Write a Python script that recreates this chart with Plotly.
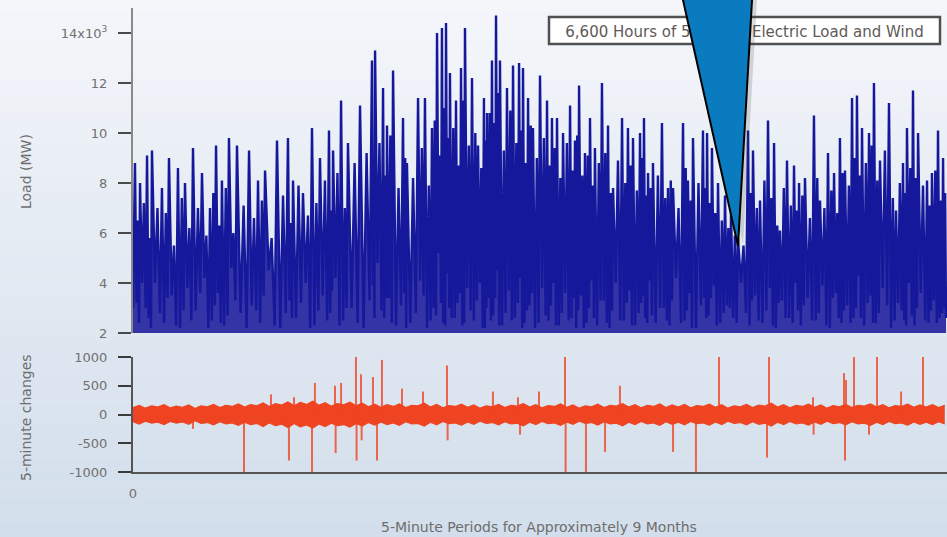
import plotly.graph_objects as go

# ---- Load series (thousand MW): daily peaks, and between two peaks a low,
# a secondary shoulder and a second low
peak_hour = [16, 57, 114, 154, 235, 292, 365, 422, 487, 560,
             625, 674, 722, 779, 844, 942, 1015, 1072, 1169, 1258,
             1299, 1380, 1453, 1518, 1591, 1624, 1689, 1745, 1843, 1940,
             1965, 2030, 2062, 2111, 2192, 2224, 2314, 2370, 2427, 2468,
             2508, 2541, 2573, 2622, 2663, 2695, 2752, 2801, 2849, 2874,
             2914, 2947, 2979, 3036, 3085, 3134, 3166, 3207, 3247, 3304,
             3361, 3401, 3442, 3491, 3548, 3588, 3621, 3669, 3710, 3750,
             3807, 3856, 3897, 3970, 4018, 4059, 4116, 4148, 4181, 4221,
             4294, 4343, 4384, 4465, 4505, 4546, 4627, 4660, 4700, 4749,
             4806, 4855, 4911, 4993, 5033, 5090, 5155, 5204, 5252, 5309,
             5366, 5407, 5455, 5528, 5577, 5642, 5691, 5739, 5780, 5837,
             5877, 5918, 5975, 6015, 6064, 6137, 6194, 6251, 6283, 6332,
             6373, 6446, 6486, 6535, 6576]
peak_load = [8.8, 8.0, 9.1, 9.3, 7.8, 9.0, 8.6, 8.0, 9.4, 8.4,
             7.0, 9.5, 8.1, 9.8, 9.5, 9.3, 8.1, 8.5, 9.7, 9.8,
             8.1, 7.6, 10.2, 9.0, 10.1, 9.3, 11.3, 9.6, 11.1, 12.9,
             13.3, 11.8, 10.3, 12.5, 10.6, 8.8, 11.4, 11.4, 10.2, 14.0,
             14.2, 14.4, 12.4, 11.3, 12.6, 14.2, 12.2, 9.5, 11.4, 10.8,
             12.9, 14.7, 12.9, 11.8, 12.7, 12.8, 12.6, 11.4, 10.2, 12.3,
             11.3, 10.6, 10.6, 10.0, 11.1, 9.7, 11.9, 9.2, 10.6, 9.4,
             12.0, 10.3, 7.8, 10.6, 10.2, 9.8, 10.0, 10.6, 8.4, 8.8,
             10.4, 7.8, 7.8, 10.4, 8.1, 9.8, 10.1, 10.0, 9.4, 8.0,
             7.5, 6.8, 5.8, 10.1, 9.3, 7.3, 10.5, 9.6, 6.1, 8.9,
             8.7, 8.0, 8.2, 10.7, 7.3, 9.2, 8.4, 9.8, 8.5, 11.4,
             11.5, 10.2, 10.0, 12.0, 8.9, 11.2, 6.9, 8.8, 10.2, 11.7,
             10.0, 8.1, 8.4, 10.1, 9.0]
low_load = [3.2, 4.0, 2.6, 4.0, 2.4, 3.5, 2.2, 3.8, 2.9, 4.2,
            2.5, 3.6, 2.3, 4.6, 2.8, 3.1, 2.4, 4.5, 2.2, 3.3,
            2.6, 4.0, 2.3, 3.5, 2.8, 4.2, 2.5, 3.0, 2.2, 3.9,
            4.8, 2.6, 3.4, 2.3, 3.6, 2.4, 4.1, 2.2, 3.0, 5.2,
            2.4, 4.4, 2.6, 3.2, 2.3, 3.8, 2.5, 4.0, 2.2, 3.4,
            2.7, 4.5, 2.3, 3.7, 2.6, 4.2, 2.4, 3.1, 2.2, 3.8,
            2.5, 4.0, 2.3, 3.6, 2.6, 2.2, 3.5, 2.4, 4.1, 2.3,
            3.3, 2.2, 4.0, 2.5, 3.7, 2.3, 3.2, 2.6, 4.1, 2.4,
            3.0, 2.3, 4.2, 2.5, 3.6, 2.2, 3.4, 2.7, 3.9, 2.4,
            3.1, 2.6, 4.0, 2.3, 3.5, 2.4, 3.8, 2.2, 3.3, 2.6,
            4.0, 2.3, 3.4, 2.5, 3.9, 2.2, 3.6, 2.4, 3.1, 2.6,
            4.3, 2.3, 3.5, 2.4, 3.8, 2.2, 3.2, 2.5, 4.0, 2.3,
            3.6, 2.4, 3.3, 2.6, 3.0]
mid_load = [6.5, 7.2, 5.8, 7.0, 6.8, 5.5, 7.4, 6.2, 7.0, 5.9,
            7.6, 6.3, 7.8, 6.0, 7.1, 6.6, 7.3, 5.8, 7.5, 6.4,
            7.9, 6.7, 7.2, 8.1, 6.9, 8.4, 7.0, 8.8, 9.2, 7.5,
            9.6, 8.3, 9.9, 7.8, 9.0, 8.2, 9.4, 7.9, 10.5, 9.1,
            11.0, 9.8, 10.2, 8.7, 11.3, 9.5, 10.0, 8.6, 9.7, 10.8,
            10.4, 11.6, 9.3, 10.9, 9.6, 10.1, 8.8, 10.3, 9.0, 9.8,
            8.7, 9.4, 8.2, 9.6, 8.5, 9.9, 8.3, 9.1, 7.9, 8.8,
            9.2, 7.6, 8.9, 8.0, 8.7, 7.7, 9.0, 7.5, 7.8, 8.3,
            7.4, 8.1, 7.0, 8.6, 7.3, 8.0, 7.8, 7.2, 6.8, 6.5,
            6.2, 5.9, 5.5, 7.6, 7.0, 8.1, 7.4, 6.3, 7.8, 7.1,
            6.9, 7.5, 6.6, 8.2, 7.0, 7.7, 6.8, 8.4, 7.9, 9.0,
            8.3, 8.8, 9.5, 8.1, 9.3, 7.4, 8.0, 7.6, 8.6, 8.2,
            7.9, 7.1, 8.5, 7.3, 7.6]
low2_load = [2.4, 3.0, 2.2, 2.8, 3.4, 2.3, 2.9, 2.5, 3.6, 2.2,
             3.1, 2.4, 2.7, 3.3, 2.2, 2.9, 3.5, 2.3, 2.8, 2.6,
             3.2, 2.2, 2.9, 2.5, 3.7, 2.3, 3.0, 2.4, 3.3, 2.6,
             2.9, 3.4, 2.4, 3.1, 2.2, 2.8, 3.5, 2.5, 2.7, 3.2,
             2.3, 3.0, 2.6, 3.6, 2.4, 2.9, 3.3, 2.2, 3.0, 2.5,
             3.4, 2.3, 2.8, 2.5, 3.2, 2.2, 2.9, 3.6, 2.4, 2.7,
             3.1, 2.3, 2.8, 2.5, 3.4, 2.9, 2.2, 3.0, 2.6, 3.3,
             2.4, 2.9, 2.5, 3.2, 2.3, 2.8, 3.5, 2.4, 2.7, 3.0,
             2.5, 3.3, 2.4, 2.9, 2.2, 3.1, 2.6, 3.4, 2.3, 2.8,
             3.0, 2.4, 2.8, 3.3, 2.5, 2.9, 2.3, 3.2, 2.6, 2.4,
             2.9, 3.1, 2.5, 2.8, 2.3, 3.4, 2.6, 2.9, 2.4, 3.0,
             2.6, 3.2, 2.4, 2.8, 3.1, 2.5, 2.9, 2.3, 2.7, 3.0,
             2.5, 2.9, 2.4, 2.8, 2.6]
start_load = 3.0

# ---- 5-minute changes (MW): envelope of the everyday band, plus isolated ramps
band_hi = [120, 160, 110, 150, 130, 170, 115, 145, 125, 165,
           105, 150, 135, 175, 120, 160, 140, 185, 130, 170,
           150, 200, 140, 190, 165, 220, 150, 210, 175, 230,
           160, 205, 145, 190, 170, 215, 150, 195, 135, 180,
           125, 170, 140, 185, 120, 160, 150, 195, 130, 175,
           115, 155, 140, 180, 125, 165, 110, 150, 135, 175,
           120, 160, 145, 190, 130, 170, 115, 155, 140, 185,
           125, 165, 110, 150, 135, 180, 120, 160, 145, 190,
           130, 170, 115, 160, 140, 185, 120, 165, 130, 175,
           115, 155, 140, 180, 125, 170, 110, 150, 135, 175,
           120, 165, 145, 195, 130, 170, 115, 160, 140, 180,
           125, 165, 110, 155, 135, 175, 120, 160, 145, 185,
           130, 170, 115, 155, 140, 180, 125, 165, 130, 170,
           120, 160]
band_lo = [-125, -165, -115, -150, -135, -175, -120, -150, -130, -170,
           -110, -155, -140, -180, -125, -165, -145, -190, -135, -175,
           -155, -210, -145, -195, -170, -225, -155, -215, -180, -235,
           -165, -210, -150, -195, -175, -220, -155, -200, -140, -185,
           -130, -175, -145, -190, -125, -165, -155, -200, -135, -180,
           -120, -160, -145, -185, -130, -170, -115, -155, -140, -180,
           -125, -165, -150, -195, -135, -175, -120, -160, -145, -190,
           -130, -170, -115, -155, -140, -185, -125, -165, -150, -195,
           -135, -175, -120, -165, -145, -190, -125, -170, -135, -180,
           -120, -160, -145, -185, -130, -175, -115, -155, -140, -180,
           -125, -170, -150, -200, -135, -175, -120, -165, -145, -185,
           -130, -170, -115, -160, -140, -180, -125, -165, -150, -190,
           -135, -175, -120, -160, -145, -185, -130, -170, -135, -175,
           -125, -165]
band_last_hour = 6590

ramp_hour = [1810, 1851, 2021, 2549, 3507, 4757, 5163, 5853, 6040, 6413,
             1477, 1640, 1689, 1948, 2184, 2354, 2922, 3125, 3296, 3953,
             5772, 5788, 6235, 5520, 1120, 1307,
             901, 1266, 1453, 1645, 1815, 1856, 1981, 2554, 3512, 3677,
             3832, 4384, 4570, 5147, 5780, 5975, 5525, 487, 3142]
ramp_mw = [1000, 700, 950, 850, 1000, 1000, 1000, 1000, 1000, 1000,
           550, 500, 550, 650, 450, 400, 400, 300, 400, 500,
           720, 600, 400, 300, 350, 300,
           -1000, -800, -1000, -670, -800, -450, -800, -450, -1000, -1000,
           -650, -650, -1000, -750, -800, -350, -350, -250, -350]

PER_HOUR = 12  # 5-minute periods per hour
W, H = 947, 537

# load path: peak -> low -> shoulder -> low -> next peak
lx, ly = [0], [start_load]
for i, (h, p) in enumerate(zip(peak_hour, peak_load)):
    nxt = peak_hour[i + 1] if i + 1 < len(peak_hour) else h + 30
    gap = nxt - h
    lx += [h * PER_HOUR, (h + 0.3 * gap) * PER_HOUR,
           (h + 0.55 * gap) * PER_HOUR, (h + 0.8 * gap) * PER_HOUR]
    ly += [p, low_load[i], mid_load[i], low2_load[i]]

n_band = len(band_hi)
band_x = [band_last_hour * PER_HOUR * i / (n_band - 1) for i in range(n_band)]

rx, ry = [], []
for h, v in zip(ramp_hour, ramp_mw):
    rx += [h * PER_HOUR, h * PER_HOUR, None]
    ry += [0, v, None]

fig = go.Figure()
fig.add_trace(go.Scatter(x=lx, y=ly, mode="lines", fill="tozeroy",
                         fillcolor="rgb(52,52,166)",
                         line=dict(color="#15189b", width=2.4),
                         xaxis="x", yaxis="y", hoverinfo="skip"))
fig.add_trace(go.Scatter(x=band_x, y=band_hi, mode="lines",
                         line=dict(color="#ef4422", width=1.2),
                         xaxis="x2", yaxis="y2", hoverinfo="skip"))
fig.add_trace(go.Scatter(x=band_x, y=band_lo, mode="lines", fill="tonexty",
                         fillcolor="#ef4422",
                         line=dict(color="#ef4422", width=1.2),
                         xaxis="x2", yaxis="y2", hoverinfo="skip"))
fig.add_trace(go.Scatter(x=rx, y=ry, mode="lines",
                         line=dict(color="rgba(239,68,34,0.8)", width=2),
                         xaxis="x2", yaxis="y2", hoverinfo="skip"))

def px(x):
    return x / W

def py(y):
    return 1 - y / H

shapes = []
# soft vertical background gradient
top_c, bot_c = (244, 246, 250), (210, 222, 235)
steps = 40
for i in range(steps):
    t = i / (steps - 1)
    c = tuple(round(a + (b - a) * t) for a, b in zip(top_c, bot_c))
    shapes.append(dict(type="rect", xref="paper", yref="paper", layer="below",
                       x0=0, x1=1, y0=1 - (i + 1) / steps, y1=1 - i / steps,
                       line=dict(width=0), fillcolor="rgb(%d,%d,%d)" % c))

# chart title box
shapes.append(dict(type="rect", xref="paper", yref="paper", layer="above",
                   x0=px(549), x1=px(940), y0=py(44), y1=py(17),
                   fillcolor="white", line=dict(color="#505050", width=2.5),
                   label=dict(text="6,600 Hours of 5-Minute Electric Load and Wind",
                              textposition="middle center",
                              font=dict(family="DejaVu Sans", size=15, color="#5e5a58"))))

# pointer callout with its drop shadow
def tri(dx, tip_y=246):
    xl0, xr0, xt = 683 + dx, 752 + dx, 738 + dx
    ytop = -20
    xl = xl0 + (xt - xl0) * (ytop / tip_y)
    xr = xr0 + (xt - xr0) * (ytop / tip_y)
    return "M %f %f L %f %f L %f %f Z" % (px(xl), py(ytop), px(xr), py(ytop),
                                          px(xt), py(tip_y))

shapes.append(dict(type="path", xref="paper", yref="paper", layer="above",
                   path=tri(5, 244), fillcolor="rgba(60,60,60,0.18)", line=dict(width=0)))
shapes.append(dict(type="path", xref="paper", yref="paper", layer="above",
                   path=tri(0), fillcolor="#0a7bbf", line=dict(color="#000000", width=2)))

title_font = dict(family="DejaVu Sans", size=14, color="#6e6e6e")
tick_font = dict(family="DejaVu Sans", size=13, color="#707070")
annotations = [
    dict(text="Load (MW)", xref="paper", yref="paper", x=px(26), y=py(172),
         xanchor="center", yanchor="middle",
         textangle=-90, showarrow=False, font=title_font),
    dict(text="5-minute changes", xref="paper", yref="paper", x=px(26), y=py(418),
         xanchor="center", yanchor="middle",
         textangle=-90, showarrow=False, font=title_font),
    dict(text="5-Minute Periods for Approximately 9 Months", xref="paper", yref="paper",
         x=px(539), y=py(527), xanchor="center", yanchor="middle",
         showarrow=False, font=title_font),
]

x_range = [0, 6608 * PER_HOUR]
fig.update_layout(
    width=W, height=H, margin=dict(l=0, r=0, t=0, b=0, autoexpand=False),
    paper_bgcolor="rgb(230,236,244)", plot_bgcolor="rgba(0,0,0,0)",
    showlegend=False, shapes=shapes, annotations=annotations,
    xaxis=dict(domain=[px(133), 1], range=x_range, anchor="y", automargin=False,
               showticklabels=False, showgrid=False, zeroline=False, ticks="",
               showline=False),
    yaxis=dict(domain=[py(333), py(8)], range=[2, 15], anchor="x", automargin=False,
               tickvals=[2, 4, 6, 8, 10, 12, 14],
               ticktext=["2", "4", "6", "8", "10", "12", "14x10<sup>3</sup>"],
               ticks="outside", ticklen=13, tickwidth=2, tickcolor="#4a4a4a",
               showline=True, linecolor="#8a8a8a", linewidth=2,
               showgrid=False, zeroline=False, tickfont=tick_font,
               ticklabelstandoff=8),
    xaxis2=dict(domain=[px(133), 1], range=x_range, anchor="y2", automargin=False,
                tickvals=[0], ticktext=["0"], ticks="",
                showline=True, linecolor="#555555", linewidth=2,
                showgrid=False, zeroline=False, tickfont=tick_font,
                ticklabelstandoff=8),
    yaxis2=dict(domain=[py(472), py(357)], range=[-1000, 1000], anchor="x2",
                automargin=False,
                tickvals=[-1000, -500, 0, 500, 1000],
                ticktext=["-1000", "-500", "0", "500", "1000"],
                ticks="outside", ticklen=13, tickwidth=2, tickcolor="#3a3a3a",
                showline=True, linecolor="#555555", linewidth=2,
                showgrid=False, zeroline=False, tickfont=tick_font,
                ticklabelstandoff=8),
)

fig.write_html("out.html")
